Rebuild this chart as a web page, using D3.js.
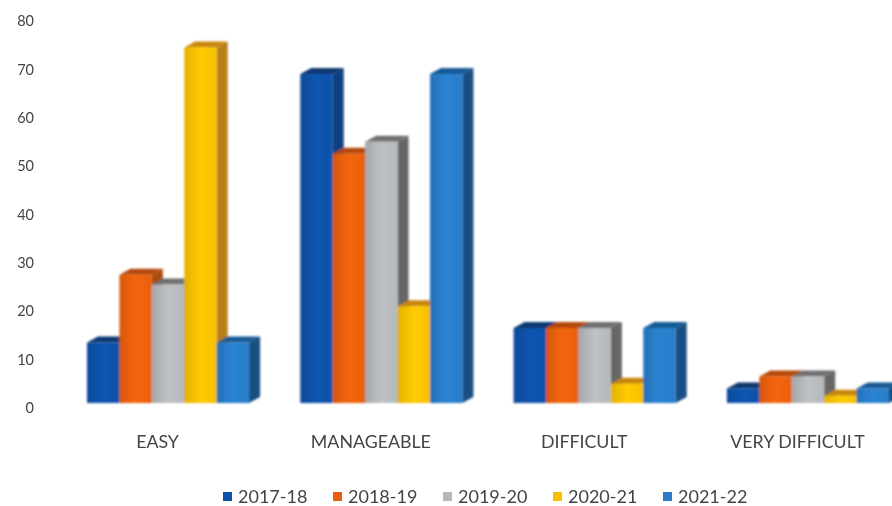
<!DOCTYPE html>
<html><head><meta charset="utf-8">
<script src="https://cdnjs.cloudflare.com/ajax/libs/d3/7.8.5/d3.min.js"></script>
<style>html,body{margin:0;padding:0;background:#fff}svg{display:block}text{font-family:Lato,"Open Sans",sans-serif;fill:#444}</style>
</head><body><svg id="c" width="892" height="506"></svg>
<script>
const categories=["EASY","MANAGEABLE","DIFFICULT","VERY DIFFICULT"];
const seriesNames=["2017-18","2018-19","2019-20","2020-21","2021-22"];
const v201718=[12.5,68,15.5,3];
const v201819=[26.5,51.5,15.5,5.5];
const v201920=[24.5,54,15.5,5.5];
const v202021=[73.5,20,4,1.5];
const v202122=[12.5,68,15.5,3];
const seriesValues=[v201718,v201819,v201920,v202021,v202122];
const yTicks=[0,10,20,30,40,50,60,70,80];
const frontColors=["#0b51a8","#e8600f","#b4b8bb","#f8c000","#2a7cc8"];
const topColors=["#07386f","#b54a0c","#6f6f6f","#c8860a","#195a94"];
const sideColors=["#093f82","#a9500f","#666","#b5801a","#154f80"];

const svg=d3.select("#c");
const defs=svg.append("defs");
defs.append("filter").attr("id","soft").attr("x","-5%").attr("y","-5%").attr("width","110%").attr("height","110%")
  .append("feGaussianBlur").attr("stdDeviation",1);
defs.append("filter").attr("id","softText").attr("x","-5%").attr("y","-5%").attr("width","110%").attr("height","110%")
  .append("feGaussianBlur").attr("stdDeviation",0.6);
frontColors.forEach((c,i)=>{
  const g=defs.append("linearGradient").attr("id","f"+i);
  g.append("stop").attr("offset","0").attr("stop-color",d3.color(c).darker(0.25));
  g.append("stop").attr("offset","0.5").attr("stop-color",d3.color(c).brighter(0.15));
  g.append("stop").attr("offset","1").attr("stop-color",c);
});
const depthX=11,depthY=6;
const y=d3.scaleLinear().domain([0,80]).range([403,16]);
const x0=d3.scaleBand().domain(categories).range([61.4,914.6]).paddingInner(0.24).paddingOuter(0.12);
const x1=d3.scaleBand().domain(seriesNames).range([0,x0.bandwidth()]);
const root=svg.append("g").attr("filter","url(#soft)");
const bars=[];
categories.forEach((c,ci)=>seriesNames.forEach((s,si)=>bars.push({c,s,si,v:seriesValues[si][ci]})));
const bar=root.selectAll("g.bar").data(bars).join("g").attr("class","bar");
bar.append("path").attr("fill",d=>sideColors[d.si]).attr("d",d=>{
  const r=x0(d.c)+x1(d.s)+x1.bandwidth();
  return `M${r},${y(d.v)}l${depthX},${-depthY}V${y(0)-depthY}l${-depthX},${depthY}Z`;});
bar.append("path").attr("fill",d=>topColors[d.si]).attr("d",d=>{
  const l=x0(d.c)+x1(d.s);
  return `M${l},${y(d.v)}l${depthX},${-depthY}h${x1.bandwidth()}l${-depthX},${depthY}Z`;});
bar.append("rect").attr("fill",d=>`url(#f${d.si})`)
  .attr("x",d=>x0(d.c)+x1(d.s)).attr("y",d=>y(d.v))
  .attr("width",x1.bandwidth()).attr("height",d=>y(0)-y(d.v));
const txt=svg.append("g").attr("filter","url(#softText)");
const yAxis=d3.axisLeft(y.copy().range([408,21])).tickValues(yTicks).tickSize(0).tickPadding(0);
const ax=txt.append("g").attr("transform","translate(34,0)").call(yAxis);
ax.select(".domain").remove();
ax.selectAll("text").style("font-size","14.5px").style("font-family","Lato,sans-serif");
const xAxis=d3.axisBottom(x0).tickSize(0).tickPadding(0);
const bx=txt.append("g").attr("transform","translate(-10.5,435)").call(xAxis);
bx.select(".domain").remove();
bx.selectAll("text").style("font-size","17.8px").style("font-family","Lato,sans-serif");
const legendX=d3.scalePoint().domain(seriesNames).range([223,663]);
const lg=txt.selectAll("g.lg").data(seriesNames).join("g").attr("class","lg").attr("transform",d=>`translate(${legendX(d)},0)`);
lg.append("rect").attr("y",492).attr("width",9).attr("height",9).attr("fill",(d,i)=>frontColors[i]);
lg.append("text").attr("x",15).attr("y",503).style("font-size","18px").text(d=>d);
</script></body></html>
